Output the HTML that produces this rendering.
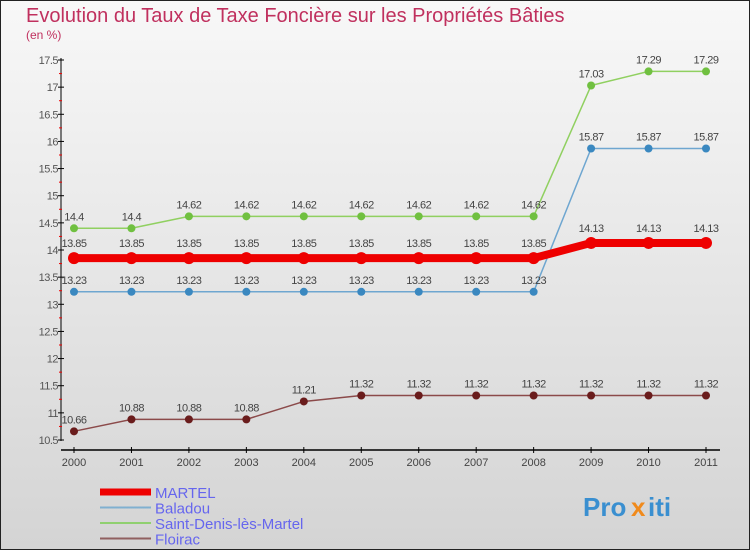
<!DOCTYPE html>
<html><head><meta charset="utf-8"><style>
body{margin:0}
svg text{font-family:"Liberation Sans",sans-serif}
</style></head><body>
<svg id="c" width="750" height="550" xmlns="http://www.w3.org/2000/svg">
<defs><linearGradient id="bg" x1="0" y1="0" x2="0" y2="1"><stop offset="0" stop-color="#f8f8f8"/><stop offset="1" stop-color="#d4d4d4"/></linearGradient></defs>
<rect x="0.5" y="0.5" width="749" height="549" fill="url(#bg)" stroke="#222"/>
<text x="26" y="22" font-size="20" fill="#c0305e">Evolution du Taux de Taxe Foncière sur les Propriétés Bâties</text>
<text x="26" y="39" font-size="12" fill="#c0305e">(en %)</text>
<g id="axes"></g><g id="series"></g><g id="legend"></g>
<g font-size="26" font-weight="bold">
<text x="583" y="516" fill="#3a8fd0">Pro</text><text x="631" y="516" fill="#f08a1c">x</text><text x="648" y="516" fill="#3a8fd0">iti</text>
</g>
</svg>
<script>
const years=["2000","2001","2002","2003","2004","2005","2006","2007","2008","2009","2010","2011"];
const martel=[13.85,13.85,13.85,13.85,13.85,13.85,13.85,13.85,13.85,14.13,14.13,14.13];
const baladou=[13.23,13.23,13.23,13.23,13.23,13.23,13.23,13.23,13.23,15.87,15.87,15.87];
const saintDenis=[14.4,14.4,14.62,14.62,14.62,14.62,14.62,14.62,14.62,17.03,17.29,17.29];
const floirac=[10.66,10.88,10.88,10.88,11.21,11.32,11.32,11.32,11.32,11.32,11.32,11.32];
const yTicks=["10.5","11","11.5","12","12.5","13","13.5","14","14.5","15","15.5","16","16.5","17","17.5"];
const NS="http://www.w3.org/2000/svg";
const X=i=>74+i*(632/11);
const Y=v=>440-(v-10.5)*(380/7);
function mk(tag,attrs,parent,txt){const e=document.createElementNS(NS,tag);for(const k in attrs)e.setAttribute(k,attrs[k]);if(txt!==undefined)e.textContent=txt;parent.appendChild(e);return e;}
const ax=document.getElementById('axes');
let e=mk('line',{x1:61,y1:58,x2:61,y2:441,stroke:'#000','stroke-width':1},ax);


e=mk('line',{x1:61,y1:450,x2:720,y2:450,stroke:'#000','stroke-width':1.5},ax);


yTicks.forEach((t,i)=>{const y=Y(parseFloat(t));
 mk('line',{x1:58,y1:y,x2:64,y2:y,stroke:'#000'},ax);
 if(i<yTicks.length-1)mk('line',{x1:59,y1:y-190/14,x2:62,y2:y-190/14,stroke:'#e00'},ax);
 e=mk('text',{x:58,y:y+4,'font-size':11,fill:'#555','text-anchor':'end','letter-spacing':'-0.5'},ax,t);
 
 
});
years.forEach((t,i)=>{const x=X(i);
 mk('line',{x1:x,y1:447,x2:x,y2:453,stroke:'#000'},ax);
 e=mk('text',{x:x,y:466,'font-size':11,fill:'#444','text-anchor':'middle'},ax,t);
 
 
});
const sg=document.getElementById('series');
function series(name,vals,color,w,r,dot,labels,lblDy){
 const g=mk('g',{},sg);
 
 
 const l=mk('polyline',{points:vals.map((v,i)=>X(i)+','+Y(v)).join(' '),fill:'none',stroke:color,'stroke-width':w,'stroke-linejoin':'round'},g);
 
 
 vals.forEach((v,i)=>{
  const c=mk('circle',{cx:X(i),cy:Y(v),r:r,fill:dot},g);
  
  
  if(labels){const t=mk('text',{x:X(i),y:Y(v)+lblDy,'font-size':11,fill:'#444','text-anchor':'middle','letter-spacing':'-0.5'},g,String(v));
  
  }
 });
}
series('floirac',floirac,'#8b4a4a',1.5,4,'#6a1c1c',true,-8);
series('baladou',baladou,'#6ea6d0',1.5,4,'#3a88c0',true,-8);
series('saint-denis',saintDenis,'#90d060',1.5,4,'#70c040',true,-8);
series('martel',martel,'#ee0000',8,6,'#ee0000',true,-11);
const lg=document.getElementById('legend');
[['MARTEL','#ee0000',7],['Baladou','#80b0d0',2],['Saint-Denis-lès-Martel','#90d070',2],['Floirac','#906060',2]].forEach((d,i)=>{
 const y=492+i*15.5;
 const g=mk('g',{},lg);
 
 
 mk('line',{x1:100,y1:y,x2:151,y2:y,stroke:d[1],'stroke-width':d[2]},g);
 mk('text',{x:155,y:y+6,'font-size':15,fill:'#6666ee'},g,d[0]);
});
</script>
</body></html>
